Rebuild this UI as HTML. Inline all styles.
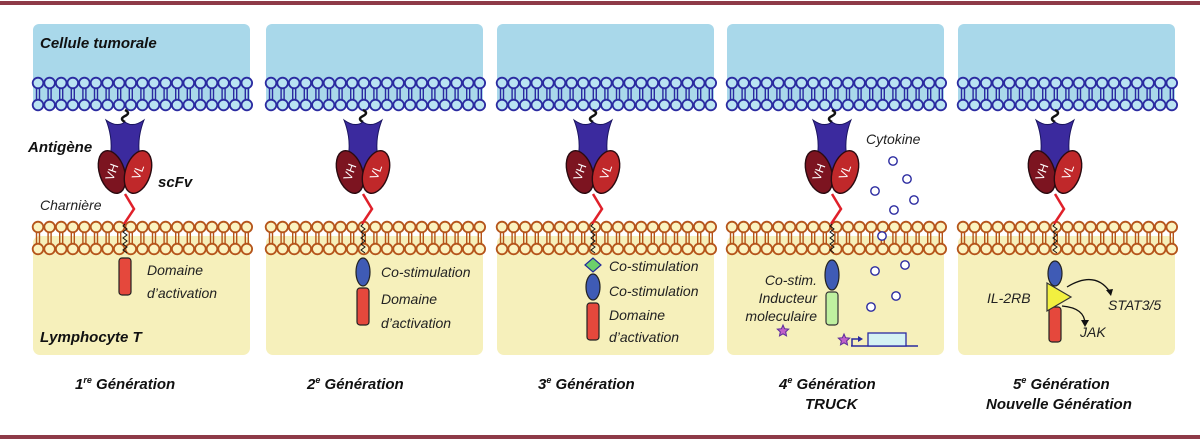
<!DOCTYPE html>
<html><head><meta charset="utf-8"><style>
html,body{margin:0;padding:0;background:#fff;}
svg{display:block}
text{font-family:"Liberation Sans","DejaVu Sans",sans-serif;font-style:italic;}
.b{font-weight:bold;font-size:15px;fill:#111}
.n{font-size:14px;fill:#222}
</style></head><body>
<svg id="s" width="1200" height="441" viewBox="0 0 1200 441" xmlns="http://www.w3.org/2000/svg">
<rect x="0" y="1" width="1200" height="4" fill="#8e3a48"/>
<rect x="0" y="435" width="1200" height="4" fill="#8e3a48"/>
<g id="g"></g>
<text class="b" x="40" y="48" font-size="16">Cellule tumorale</text>
<text class="b" x="28" y="152">Antigène</text>
<text class="b" x="158" y="187">scFv</text>
<text class="n" x="40" y="210">Charnière</text>
<text class="n" x="147" y="275">Domaine</text>
<text class="n" x="147" y="298">d’activation</text>
<text class="b" x="40" y="342">Lymphocyte T</text>
<text class="b" x="75" y="389">1<tspan font-size="9" dy="-6">re</tspan><tspan dy="6"> Génération</tspan></text>
<text class="n" x="381" y="277">Co-stimulation</text>
<text class="n" x="381" y="304">Domaine</text>
<text class="n" x="381" y="328">d’activation</text>
<text class="b" x="307" y="389">2<tspan font-size="9" dy="-6">e</tspan><tspan dy="6"> Génération</tspan></text>
<text class="n" x="609" y="271">Co-stimulation</text>
<text class="n" x="609" y="296">Co-stimulation</text>
<text class="n" x="609" y="320">Domaine</text>
<text class="n" x="609" y="342">d’activation</text>
<text class="b" x="538" y="389">3<tspan font-size="9" dy="-6">e</tspan><tspan dy="6"> Génération</tspan></text>
<text class="n" x="866" y="144" font-size="16">Cytokine</text>
<text class="n" x="817" y="285" text-anchor="end">Co-stim.</text>
<text class="n" x="817" y="303" text-anchor="end">Inducteur</text>
<text class="n" x="817" y="321" text-anchor="end">moleculaire</text>
<text class="b" x="779" y="389">4<tspan font-size="9" dy="-6">e</tspan><tspan dy="6"> Génération</tspan></text>
<text class="b" x="805" y="409">TRUCK</text>
<text class="n" x="987" y="303">IL-2RB</text>
<text class="n" x="1108" y="310">STAT3/5</text>
<text class="n" x="1080" y="337">JAK</text>
<text class="b" x="1013" y="389">5<tspan font-size="9" dy="-6">e</tspan><tspan dy="6"> Génération</tspan></text>
<text class="b" x="986" y="409">Nouvelle Génération</text>
</svg>
<script>
var g=document.getElementById('g'),h='';
var panels=[[33,125],[266,363],[497,593],[727,832],[958,1055]];
panels.forEach(function(p,i){
 var L=p[0],W=217,R=p[1];
 h+='<rect x="'+L+'" y="24" width="'+W+'" height="82" rx="6" fill="#a9d8ea"/>';
 h+='<rect x="'+L+'" y="236" width="'+W+'" height="119" rx="7" fill="#f6f0bb"/>';
 for(var x=L+5;x<L+W-2;x+=11.6){
  h+='<path d="M'+(x-1.5)+' 88V100M'+(x+1.5)+' 88V100" stroke="#2a2aa0" stroke-width="1.4" fill="none"/>';
  h+='<circle cx="'+x+'" cy="83" r="5.3" fill="#b9e3f2" stroke="#2a2aa0" stroke-width="1.8"/>';
  h+='<circle cx="'+x+'" cy="105" r="5.3" fill="#b9e3f2" stroke="#2a2aa0" stroke-width="1.8"/>';
  h+='<path d="M'+(x-1.5)+' 232V244M'+(x+1.5)+' 232V244" stroke="#b5541a" stroke-width="1.4" fill="none"/>';
  h+='<circle cx="'+x+'" cy="227" r="5.3" fill="#fbf3c0" stroke="#b5541a" stroke-width="1.8"/>';
  h+='<circle cx="'+x+'" cy="249" r="5.3" fill="#fbf3c0" stroke="#b5541a" stroke-width="1.8"/>';
 }
 h+='<path d="M'+R+' 110q6 3 0 6q-6 3 0 6" stroke="#111" stroke-width="2.5" fill="none"/>';
 h+='<path d="M'+(R-19)+' 120Q'+(R-8)+' 128 '+R+' 122Q'+(R+8)+' 128 '+(R+19)+' 120Q'+(R+13)+' 135 '+(R+14)+' 150L'+(R+16)+' 172L'+(R-16)+' 172L'+(R-14)+' 150Q'+(R-13)+' 135 '+(R-19)+' 120Z" fill="#3b2a9e" stroke="#1a1460" stroke-width="1"/>';
 h+='<ellipse cx="'+(R-13)+'" cy="172" rx="12.5" ry="22" transform="rotate(-18 '+(R-13)+' 172)" fill="#7c1420" stroke="#2a0a10" stroke-width="1.4"/>';
 h+='<ellipse cx="'+(R+13)+'" cy="172" rx="12.5" ry="22" transform="rotate(18 '+(R+13)+' 172)" fill="#c0282a" stroke="#2a0a10" stroke-width="1.4"/>';
 h+='<text x="'+(R-13)+'" y="176" fill="#fff" font-size="12" text-anchor="middle" transform="rotate(-70 '+(R-13)+' 172)" style="font-family:Liberation Sans;font-style:normal">VH</text>';
 h+='<text x="'+(R+13)+'" y="176" fill="#fff" font-size="12" text-anchor="middle" transform="rotate(-70 '+(R+13)+' 172)" style="font-family:Liberation Sans;font-style:normal">VL</text>';
 h+='<path d="M'+R+' 194L'+(R+9)+' 209L'+(R-1)+' 224" stroke="#e0202a" stroke-width="2.5" fill="none"/>';
 var z='M'+R+' 224';for(var y=226;y<256;y+=3)z+='L'+(R+(y%6<3?2:-2))+' '+y;
 h+='<path d="'+z+'" stroke="#111" stroke-width="1" fill="none"/>';
 var red=function(y1,y2){return '<rect x="'+(R-6)+'" y="'+y1+'" width="12" height="'+(y2-y1)+'" rx="3" fill="#e5483c" stroke="#222" stroke-width="1.2"/>';};
 var blue=function(y1,y2){return '<ellipse cx="'+R+'" cy="'+((y1+y2)/2)+'" rx="7" ry="'+((y2-y1)/2)+'" fill="#3f5bb5" stroke="#222" stroke-width="1.2"/>';};
 if(i==0)h+=red(258,295);
 if(i==1)h+=blue(258,286)+red(288,325);
 if(i==2)h+='<path d="M'+(R-8)+' 265L'+R+' 258L'+(R+8)+' 265L'+R+' 272Z" fill="#6cd06a" stroke="#222a9a" stroke-width="1.2"/>'+blue(274,300)+red(303,340);
 if(i==3){h+=blue(260,290)+'<rect x="'+(R-6)+'" y="292" width="12" height="33" rx="3" fill="#bff0a0" stroke="#333" stroke-width="1.2"/>';}
 if(i==4){h+=blue(261,286)+red(307,342)+'<path d="M'+(R-8)+' 283L'+(R+16)+' 297L'+(R-8)+' 311Z" fill="#f2f040" stroke="#333" stroke-width="1.2"/>';
  h+='<path d="M'+(R+12)+' 287Q'+(R+40)+' 270 '+(R+55)+' 292" stroke="#111" stroke-width="1.3" fill="none"/><path d="M'+(R+51)+' 290L'+(R+56)+' 296L'+(R+58)+' 289" fill="#111"/>';
  h+='<path d="M'+(R+7)+' 306Q'+(R+30)+' 308 '+(R+30)+' 324" stroke="#111" stroke-width="1.3" fill="none"/><path d="M'+(R+26)+' 320L'+(R+30)+' 327L'+(R+34)+' 320Z" fill="#111"/>';}
});
[[893,161],[907,179],[875,191],[914,200],[894,210],[882,236],[905,265],[875,271],[896,296],[871,307]].forEach(function(c){h+='<circle cx="'+c[0]+'" cy="'+c[1]+'" r="4.2" fill="#fff" stroke="#2a2aa0" stroke-width="1.4"/>';});
h+='<path d="M851 346H918M852 346V339H860" stroke="#2a2aa0" stroke-width="1.5" fill="none"/><path d="M858 336L863 339L858 342Z" fill="#2a2aa0"/>';
h+='<rect x="868" y="333" width="38" height="13" fill="#d4f2f4" stroke="#2a2aa0" stroke-width="1.3"/>';
function star(cx,cy){var s='';for(var k=0;k<10;k++){var r=k%2?2.8:6,a=Math.PI/5*k-Math.PI/2;s+=(cx+r*Math.cos(a)).toFixed(1)+','+(cy+r*Math.sin(a)).toFixed(1)+' ';}return '<polygon points="'+s+'" fill="#c060c8" stroke="#5a2a9a" stroke-width="1"/>';}
h+=star(783,331)+star(844,340);
g.innerHTML=h;
</script>
</body></html>
